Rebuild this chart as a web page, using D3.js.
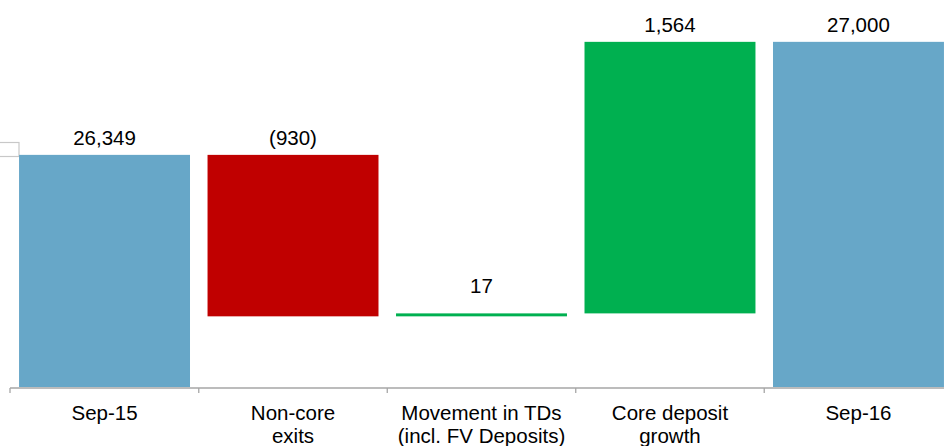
<!DOCTYPE html>
<html>
<head>
<meta charset="utf-8">
<script src="https://cdn.jsdelivr.net/npm/d3@7"></script>
<style>
  body { margin: 0; background: #fff; }
  text { font-family: "Liberation Sans", Arial, sans-serif; fill: #000; }
</style>
</head>
<body>
<div id="chart"></div>
<script>
// waterfall: deposits Sep-15 to Sep-16
var categories = ["Sep-15", "Non-core exits", "Movement in TDs (incl. FV Deposits)", "Core deposit growth", "Sep-16"];
var labelLines = [["Sep-15"], ["Non-core", "exits"], ["Movement in TDs", "(incl. FV Deposits)"], ["Core deposit", "growth"], ["Sep-16"]];
var values = [26349, -930, 17, 1564, 27000];
var kinds = ["total", "delta", "delta", "delta", "total"];
var valueLabels = ["26,349", "(930)", "17", "1,564", "27,000"];

var width = 944, height = 446;
var colors = { total: "#67a7c8", up: "#00b050", down: "#c00000" };

var svg = d3.select("#chart").append("svg")
  .attr("width", width)
  .attr("height", height);

// running totals for floating bars
var run = 0;
var bars = values.map(function(v, i) {
  var start, end;
  if (kinds[i] == "total") { start = null; end = v; run = v; }
  else { start = run; end = run + v; run = end; }
  return { name: categories[i], lines: labelLines[i], start: start, end: end, kind: kinds[i], v: v, label: valueLabels[i] };
});

var x = d3.scaleBand()
  .domain(categories)
  .range([10, 953])
  .paddingInner(0.093)
  .paddingOuter(0.048);

var y = d3.scaleLinear()
  .domain([25012, 27241])
  .range([387, 0]);

function barTop(d) {
  return d.kind == "total" ? y(d.end) : y(Math.max(d.start, d.end));
}
function barHeight(d) {
  if (d.kind == "total") return y.range()[0] - y(d.end);
  return Math.abs(y(d.start) - y(d.end));
}

// little leftover box at left edge
svg.append("rect")
  .attr("x", -2).attr("y", 142.5)
  .attr("width", 21).attr("height", 14)
  .attr("fill", "none")
  .attr("stroke", "#c8c8c8")
  .attr("stroke-width", 1.2);

var g = svg.selectAll(".bar")
  .data(bars)
  .enter().append("g")
  .attr("class", "bar");

g.append("rect")
  .attr("x", function(d) { return x(d.name); })
  .attr("width", x.bandwidth())
  .attr("y", barTop)
  .attr("height", barHeight)
  .style("fill", function(d) {
    if (d.kind == "total") return colors.total;
    return d.v < 0 ? colors.down : colors.up;
  });

g.append("text")
  .attr("x", function(d) { return x(d.name) + x.bandwidth() / 2; })
  .attr("y", function(d) {
    // thin bars get their label lifted a bit more
    return barTop(d) - 10 - (barHeight(d) < 10 ? 10 : 0);
  })
  .attr("text-anchor", "middle")
  .style("font-size", "20.5px")
  .text(function(d) { return d.label; });

// x axis
var axis = svg.append("g")
  .attr("transform", "translate(0,388)");

axis.append("line")
  .attr("x1", 10).attr("x2", width)
  .attr("stroke", "#a6a6a6")
  .attr("stroke-width", 1.3);

var step = x.step();
var tickX = d3.range(categories.length + 1).map(function(i) {
  return x(categories[0]) - x.paddingInner() * step / 2 + i * step;
});
tickX[0] = 10;

axis.selectAll(".tick")
  .data(tickX)
  .enter().append("line")
  .attr("x1", function(d) { return d; })
  .attr("x2", function(d) { return d; })
  .attr("y1", 0).attr("y2", 5)
  .attr("stroke", "#a6a6a6")
  .attr("stroke-width", 1.3);

var cat = axis.selectAll(".cat")
  .data(bars)
  .enter().append("text")
  .attr("text-anchor", "middle")
  .attr("x", function(d) { return x(d.name) + x.bandwidth() / 2; })
  .attr("y", 32)
  .style("font-size", "20.5px");

cat.selectAll("tspan")
  .data(function(d) { return d.lines; })
  .enter().append("tspan")
  .attr("x", function() { return d3.select(this.parentNode).attr("x"); })
  .attr("dy", function(d, i) { return i == 0 ? 0 : 23; })
  .text(function(d) { return d; });
</script>
</body>
</html>
